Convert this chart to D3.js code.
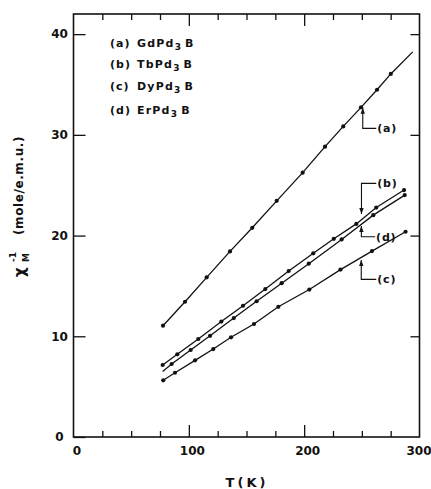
<!DOCTYPE html>
<html>
<head>
<meta charset="utf-8">
<script src="https://cdn.jsdelivr.net/npm/d3@7/dist/d3.min.js"></script>
<style>
  body { margin: 0; background: #fff; }
  text { font-family: "DejaVu Sans", sans-serif; fill: #111; }
</style>
</head>
<body>
<svg id="chart" width="431" height="489"></svg>
<script>
// Inverse molar susceptibility vs temperature for RPd3B compounds
const xTickLabels = [0, 100, 200, 300];
const yTickLabels = [0, 10, 20, 30, 40];
const xMinorTicks = [25, 50, 75, 125, 150, 175, 225, 250, 275];
const xMajorTicks = [100, 200];

// (a) GdPd3B
const tA = [77.6, 96.7, 115.5, 135.7, 155.0, 176.2, 198.7, 218.1, 233.9, 249.3, 263.2, 275.1];
const vA = [11.05, 13.43, 15.85, 18.43, 20.77, 23.45, 26.25, 28.83, 30.84, 32.73, 34.48, 36.05];
const aLineEnd = [294.1, 38.24];

// (b) TbPd3B
const tB = [77.3, 90.0, 108.2, 128.2, 147.0, 166.3, 186.6, 207.9, 225.7, 245.2, 262.5, 286.6];
const vB = [7.15, 8.21, 9.73, 11.46, 13.03, 14.69, 16.48, 18.24, 19.68, 21.16, 22.78, 24.52];

// (c) DyPd3B
const tC = [77.8, 88.0, 105.4, 121.2, 136.6, 156.5, 177.6, 204.5, 231.5, 258.8, 287.9];
const vC = [5.63, 6.38, 7.61, 8.73, 9.90, 11.22, 12.93, 14.64, 16.62, 18.46, 20.38];

// (d) ErPd3B
const tD = [85.1, 101.6, 118.4, 139.0, 158.8, 180.5, 204.0, 232.5, 259.9, 287.2];
const vD = [7.25, 8.64, 10.05, 11.81, 13.48, 15.27, 17.21, 19.62, 22.03, 24.02];
const dLineStart = [77.3, 6.50];

const legendTags = ["(a)", "(b)", "(c)", "(d)"];
const legendElements = ["Gd", "Tb", "Dy", "Er"];

// callouts: label, T of the leader, V at arrow tip, V at elbow, T where the label starts
const calloutLabels = ["(a)", "(b)", "(d)", "(c)"];
const calloutT = [250.8, 249.7, 249.6, 249.5];
const calloutTipV = [32.68, 22.13, 20.94, 17.57];
const calloutElbowV = [30.64, 25.18, 19.88, 15.65];
const calloutTextT = [262.5, 262.5, 261.5, 262.5];

const svg = d3.select("#chart");
const x = d3.scaleLinear().domain([0, 300]).range([73.5, 419.5]);
const y = d3.scaleLinear().domain([0, 42]).range([437, 14]);

// frame
svg.append("rect")
  .attr("x", x(0)).attr("y", y(42))
  .attr("width", x(300) - x(0)).attr("height", y(0) - y(42))
  .attr("fill", "none").attr("stroke", "#111").attr("stroke-width", 1.6);

function styleAxis(g) {
  g.select(".domain").remove();
  g.selectAll(".tick line").attr("stroke", "#111").attr("stroke-width", 1.3);
}

// bottom ticks (inward)
svg.append("g").attr("transform", `translate(0,${y(0)})`)
  .call(d3.axisBottom(x).tickValues(xMinorTicks).tickSize(-6).tickFormat(""))
  .call(styleAxis);
svg.append("g").attr("transform", `translate(0,${y(0)})`)
  .call(d3.axisBottom(x).tickValues(xMajorTicks).tickSize(-12).tickFormat(""))
  .call(styleAxis);
// top ticks (inward)
svg.append("g").attr("transform", `translate(0,${y(42)})`)
  .call(d3.axisTop(x).tickValues(xMinorTicks).tickSize(-6).tickFormat(""))
  .call(styleAxis);
svg.append("g").attr("transform", `translate(0,${y(42)})`)
  .call(d3.axisTop(x).tickValues(xMajorTicks).tickSize(-12).tickFormat(""))
  .call(styleAxis);
// x tick labels
const xLab = svg.append("g").attr("transform", `translate(0,${y(0)})`)
  .call(d3.axisBottom(x).tickValues(xTickLabels).tickSize(0).tickPadding(9).tickFormat(d3.format("d")))
  .call(styleAxis);
xLab.selectAll("text").attr("font-size", 12).attr("font-weight", "bold")
  .attr("font-family", "DejaVu Sans").attr("fill", "#111")
  .attr("dx", d => d === 300 ? -1 : 3);

// left ticks and labels
const yLeft = svg.append("g").attr("transform", `translate(${x(0)},0)`)
  .call(d3.axisLeft(y).tickValues(yTickLabels).tickSize(-12).tickPadding(9).tickFormat(d3.format("d")))
  .call(styleAxis);
yLeft.selectAll("text").attr("font-size", 12).attr("font-weight", "bold")
  .attr("font-family", "DejaVu Sans").attr("fill", "#111")
  .attr("text-anchor", "middle").attr("x", -14);
// right ticks
svg.append("g").attr("transform", `translate(${x(300)},0)`)
  .call(d3.axisRight(y).tickValues(yTickLabels.filter(d => d > 0)).tickSize(-9).tickFormat(""))
  .call(styleAxis);

// series
const line = d3.line().x(d => x(d[0])).y(d => y(d[1]));
const zip = (ts, vs) => ts.map((t, i) => [t, vs[i]]);
const series = [
  { pts: zip(tA, vA), path: zip(tA, vA).concat([aLineEnd]) },
  { pts: zip(tB, vB), path: zip(tB, vB) },
  { pts: zip(tC, vC), path: zip(tC, vC) },
  { pts: zip(tD, vD), path: [dLineStart].concat(zip(tD, vD)) }
];
series.forEach(s => {
  svg.append("path").attr("d", line(s.path))
    .attr("fill", "none").attr("stroke", "#111").attr("stroke-width", 1.3);
  svg.append("g").selectAll("circle").data(s.pts).join("circle")
    .attr("cx", d => x(d[0])).attr("cy", d => y(d[1])).attr("r", 2.1)
    .attr("fill", "#111");
});

// legend
const legend = svg.append("g").attr("font-size", 11).attr("font-weight", "bold");
const legendY = [47, 68, 90, 114];
legendTags.forEach((tag, i) => {
  legend.append("text").attr("x", 110).attr("y", legendY[i])
    .attr("letter-spacing", 1).text(tag);
  const t = legend.append("text").attr("x", 137).attr("y", legendY[i]).attr("letter-spacing", 1.2);
  t.append("tspan").text(legendElements[i] + "Pd");
  t.append("tspan").attr("dy", 3).attr("font-size", 9).text("3");
  t.append("tspan").attr("dy", -3).attr("dx", 3).text("B");
});

// callouts with arrowheads
const ann = svg.append("g");
calloutLabels.forEach((lab, i) => {
  const lx = x(calloutT[i]);
  const ty = y(calloutTipV[i]);
  const ey = y(calloutElbowV[i]);
  const tx = x(calloutTextT[i]);
  ann.append("path")
    .attr("d", `M${lx},${ty} L${lx},${ey} L${tx},${ey}`)
    .attr("fill", "none").attr("stroke", "#111").attr("stroke-width", 1.1);
  const dir = ey > ty ? 1 : -1;  // arrow points toward the tip
  ann.append("path")
    .attr("d", `M${lx},${ty} L${lx - 2.2},${ty + dir * 6} L${lx + 2.2},${ty + dir * 6} Z`)
    .attr("fill", "#111");
  ann.append("text").attr("x", tx + 1).attr("y", ey + 4)
    .attr("font-size", 11).attr("font-weight", "bold").attr("letter-spacing", 0.8)
    .text(lab);
});

// axis titles
svg.append("text").attr("x", 247).attr("y", 487)
  .attr("text-anchor", "middle").attr("font-size", 13).attr("font-weight", "bold")
  .attr("letter-spacing", 3).text("T(K)");

const yt = svg.append("g").attr("font-weight", "bold");
yt.append("text").attr("transform", "translate(25,277) rotate(-90)")
  .attr("font-size", 15).text("χ");
yt.append("text").attr("transform", "translate(29,262) rotate(-90)")
  .attr("font-size", 9).text("M");
yt.append("text").attr("transform", "translate(16,262) rotate(-90)")
  .attr("font-size", 9).text("-1");
yt.append("text").attr("transform", "translate(23,235) rotate(-90)")
  .attr("font-size", 12).attr("letter-spacing", 0.6).text("(mole/e.m.u.)");
</script>
</body>
</html>
